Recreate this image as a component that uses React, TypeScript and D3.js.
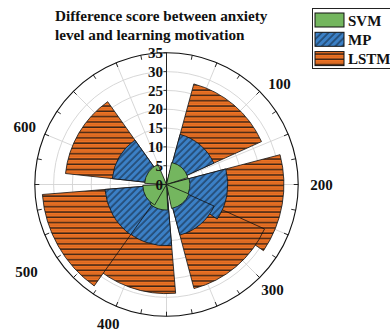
import React from "react";
import * as d3 from "d3";

// Categories and per-model values (radial length of each wedge)
const categories = ["100", "200", "300", "400", "500", "600"];
const svmValues = [6.0, 6.2, 6.5, 6.8, 6.3, 5.8];
const mpValues = [13.8, 16.3, 13.9, 16.3, 16.4, 14.5];
const lstmValues = [27.7, 31.2, 28.6, 29.0, 33.1, 27.0];

// Angular bins in degrees (counter-clockwise from east)
const binFrom = [24.3, -34.3, -75.2, -134.5, -175.4, 125.4];
const binTo = [74.8, 14.7, -24.4, -85.2, -125.5, 173.8];
const svmBinFrom = [18, -34, -78, -130, -178, 113];
const svmBinTo = [77, 15, -23, -87, -120, 177];

// Theta tick label angles and radial ticks
const thetaLabelAngles = [41.6, 0, -44.7, -112.7, -148, 158];
const radialTicks = [0, 5, 10, 15, 20, 25, 30, 35];

const seriesNames = ["SVM", "MP", "LSTM"];

const W = 390;
const H = 334;
const cx = 166.5;
const cy = 184.5;
const R = 131.7;
const FONT = "'Liberation Serif', 'Times New Roman', serif";

const COLORS = {
  svm: "#74b65f",
  mp: "#3b80c6",
  lstm: "#f27424",
};

export default function App() {
  const r = d3.scaleLinear().domain([0, 35]).range([0, R]);
  const toD3 = (deg: number) => ((90 - deg) * Math.PI) / 180;
  const arc = d3.arc<any>();
  const wedge = (v: number, from: number, to: number) =>
    arc({ innerRadius: 0, outerRadius: r(v), startAngle: toD3(to), endAngle: toD3(from) }) as string;
  const pt = (rad: number, deg: number) => [
    cx + rad * Math.cos((deg * Math.PI) / 180),
    cy - rad * Math.sin((deg * Math.PI) / 180),
  ];

  const spokes = d3.range(0, 360, 22.5);
  const outerTicks = d3.range(0, 360, 11.25);
  const labelRadius = [151, 155, 149, 151, 165, 153];

  return (
    <svg
      width={W}
      height={H}
      style={{ position: "absolute", left: 0, top: 0, display: "block", background: "#fff" }}
      fontFamily={FONT}
    >
      <defs>
        <pattern id="hatchMP" patternUnits="userSpaceOnUse" width={4.8} height={4.8} patternTransform="rotate(45)">
          <rect width={4.8} height={4.8} fill={COLORS.mp} />
          <line x1={1} y1={0} x2={1} y2={4.8} stroke="#0c1420" strokeWidth={0.85} />
        </pattern>
        <pattern id="hatchLSTM" patternUnits="userSpaceOnUse" width={8} height={5.3}>
          <rect width={8} height={5.3} fill={COLORS.lstm} />
          <line x1={0} y1={1} x2={8} y2={1} stroke="#111" strokeWidth={1.2} />
          <line x1={0} y1={3.65} x2={8} y2={3.65} stroke="#b4561c" strokeWidth={0.6} />
        </pattern>
      </defs>

      {/* Title */}
      <text x={55} y={21} fontSize={15.2} fontWeight="bold" fill="#111">
        Difference score between anxiety
      </text>
      <text x={55} y={40} fontSize={15.2} fontWeight="bold" fill="#111">
        level and learning motivation
      </text>

      {/* Grid */}
      <g>
        {spokes.map((a) => {
          const [x, y] = pt(R, a);
          return <line key={"s" + a} x1={cx} y1={cy} x2={x} y2={y} stroke="#d2d2d2" strokeWidth={0.9} />;
        })}
        {radialTicks.slice(1, -1).map((t) => (
          <circle key={"c" + t} cx={cx} cy={cy} r={r(t)} fill="none" stroke="#d2d2d2" strokeWidth={0.9} />
        ))}
      </g>

      {/* Wedges: LSTM, then MP, then SVM */}
      <g stroke="#111" strokeWidth={0.8} strokeLinejoin="miter">
        {lstmValues.map((v, i) => (
          <path key={"l" + i} d={wedge(v, binFrom[i], binTo[i])} transform={`translate(${cx},${cy})`} fill="url(#hatchLSTM)" />
        ))}
        {mpValues.map((v, i) => (
          <path key={"m" + i} d={wedge(v, binFrom[i], binTo[i])} transform={`translate(${cx},${cy})`} fill="url(#hatchMP)" />
        ))}
        {svmValues.map((v, i) => (
          <path key={"g" + i} d={wedge(v, svmBinFrom[i], svmBinTo[i])} transform={`translate(${cx},${cy})`} fill={COLORS.svm} />
        ))}
      </g>

      {/* Outer ring and ticks */}
      <circle cx={cx} cy={cy} r={R} fill="none" stroke="#111" strokeWidth={1.1} />
      {outerTicks.map((a) => {
        const [x1, y1] = pt(R, a);
        const [x2, y2] = pt(R - 4.5, a);
        return <line key={"t" + a} x1={x1} y1={y1} x2={x2} y2={y2} stroke="#111" strokeWidth={0.9} />;
      })}

      {/* Radial axis */}
      <line x1={cx} y1={cy} x2={cx} y2={cy - R} stroke="#222" strokeWidth={1} />
      {radialTicks.map((t) => (
        <g key={"rt" + t}>
          <line x1={cx - 3} y1={cy - r(t)} x2={cx} y2={cy - r(t)} stroke="#222" strokeWidth={0.9} />
          <text
            x={cx - 3.5}
            y={cy - r(t)}
            dy="0.35em"
            textAnchor="end"
            fontSize={15}
            fontWeight="bold"
            fill="#111"
          >
            {t}
          </text>
        </g>
      ))}

      {/* Theta labels */}
      {categories.map((c, i) => {
        const [x, y] = pt(labelRadius[i], thetaLabelAngles[i]);
        return (
          <text key={"tl" + c} x={x} y={y} dy="0.35em" textAnchor="middle" fontSize={15} fontWeight="bold" fill="#111">
            {c}
          </text>
        );
      })}

      {/* Legend */}
      <g>
        <rect x={312.5} y={8.5} width={90} height={60} fill="#fff" stroke="#222" strokeWidth={1} />
        {seriesNames.map((name, i) => {
          const fill = i === 0 ? COLORS.svm : i === 1 ? "url(#hatchMP)" : "url(#hatchLSTM)";
          const y0 = 13 + i * 19.3;
          return (
            <g key={name}>
              <rect x={315} y={y0} width={29} height={14} fill={fill} stroke="#111" strokeWidth={1} />
              <text x={348} y={y0 + 12.8} fontSize={15} fontWeight="bold" fill="#111">
                {name}
              </text>
            </g>
          );
        })}
      </g>
    </svg>
  );
}
